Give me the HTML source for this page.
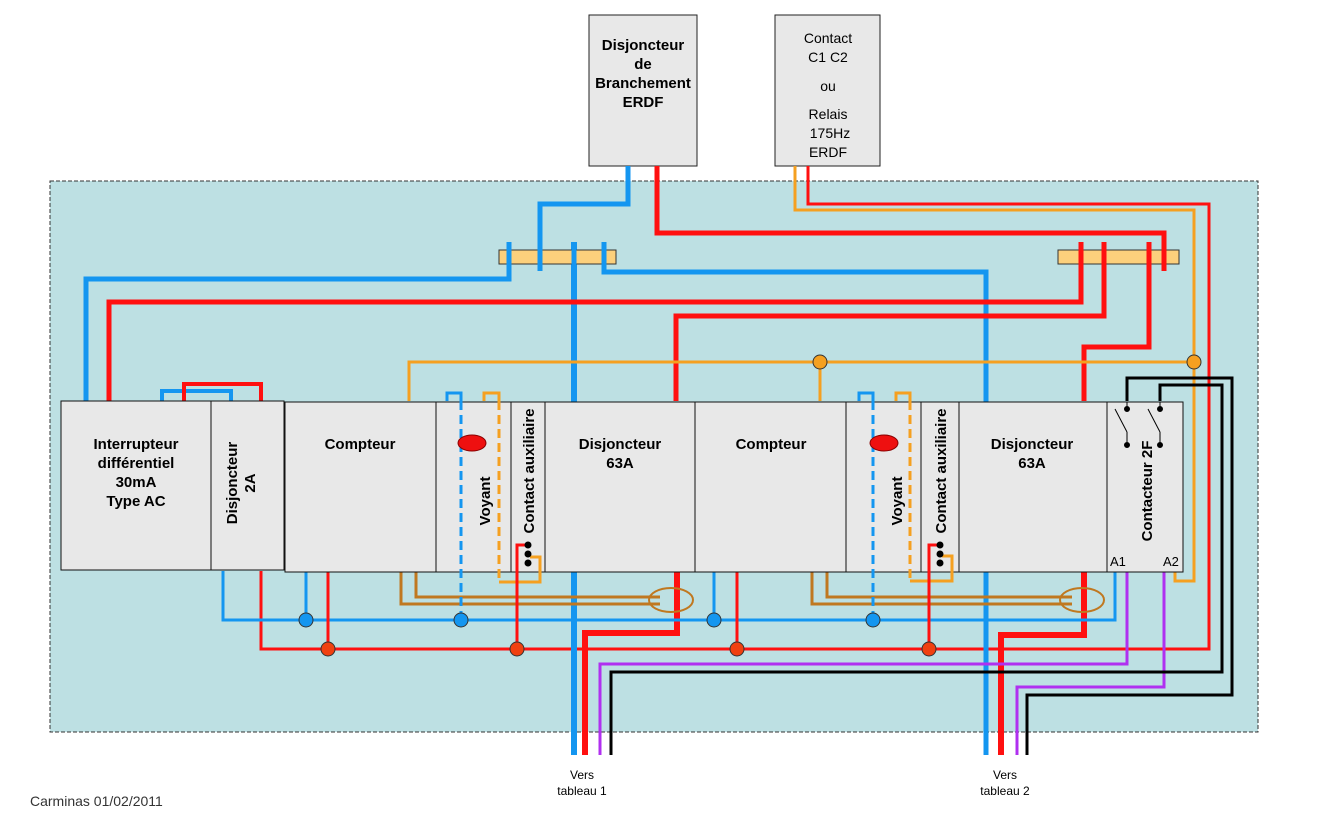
<!DOCTYPE html>
<html><head><meta charset="utf-8"><style>
html,body{margin:0;padding:0;background:#fff;}
svg{display:block;font-family:"Liberation Sans",Arial,sans-serif;}
.b{font-weight:bold;font-size:15px;}
</style></head><body>
<svg width="1323" height="831" viewBox="0 0 1323 831" xmlns="http://www.w3.org/2000/svg">
<rect x="50" y="181" width="1208" height="551" fill="#bde0e3" stroke="#333" stroke-width="1" stroke-dasharray="4,2"/>
<rect x="589" y="15" width="108" height="151" fill="#e8e8e8" stroke="#222"/>
<g class="b" text-anchor="middle">
<text x="643" y="50">Disjoncteur</text><text x="643" y="69">de</text><text x="643" y="88">Branchement</text><text x="643" y="107">ERDF</text></g>
<rect x="775" y="15" width="105" height="151" fill="#e8e8e8" stroke="#222"/>
<g font-size="14" text-anchor="middle">
<text x="828" y="43">Contact</text><text x="828" y="62">C1 C2</text><text x="828" y="91">ou</text><text x="828" y="119">Relais</text><text x="830" y="138">175Hz</text><text x="828" y="157">ERDF</text></g>

<g fill="none" stroke-linejoin="miter">
<polyline points="808,166 808,204 1209,204 1209,649 261,649 261,571" stroke="#ff1010" stroke-width="3"/>
<polyline points="795,166 795,210 1194,210 1194,581 1175,581 1175,571" stroke="#f5a020" stroke-width="3"/>
<polyline points="628,166 628,204 540,204 540,271" stroke="#1496f0" stroke-width="5"/>
<polyline points="86,401 86,279 509,279 509,242" stroke="#1496f0" stroke-width="5"/>
<polyline points="574,242 574,755" stroke="#1496f0" stroke-width="6"/>
<polyline points="604,242 604,272 986,272 986,755" stroke="#1496f0" stroke-width="5"/>
<polyline points="657,166 657,233 1164,233 1164,271" stroke="#ff1010" stroke-width="5"/>
<polyline points="109,401 109,302 1081,302 1081,242" stroke="#ff1010" stroke-width="5"/>
<polyline points="676,401 676,316 1104,316 1104,242" stroke="#ff1010" stroke-width="5"/>
<polyline points="1084,401 1084,347 1149,347 1149,242" stroke="#ff1010" stroke-width="5"/>
<polyline points="677,571 677,633 585,633 585,755" stroke="#ff1010" stroke-width="6"/>
<polyline points="1084,571 1084,635 1001,635 1001,755" stroke="#ff1010" stroke-width="6"/>
<polyline points="409,401 409,362 1194,362" stroke="#f5a020" stroke-width="3"/>
<line x1="820" y1="362" x2="820" y2="401" stroke="#f5a020" stroke-width="3"/>
<polyline points="162,401 162,391 231,391 231,401" stroke="#1496f0" stroke-width="4"/>
<polyline points="184,401 184,384 261,384 261,401" stroke="#ff1010" stroke-width="4"/>
<polyline points="223,571 223,620 1115,620 1115,571" stroke="#1496f0" stroke-width="3"/>
<line x1="306" y1="572" x2="306" y2="620" stroke="#1496f0" stroke-width="3"/>
<line x1="714" y1="572" x2="714" y2="620" stroke="#1496f0" stroke-width="3"/>
<line x1="328" y1="572" x2="328" y2="649" stroke="#ff1010" stroke-width="3"/>
<line x1="737" y1="572" x2="737" y2="649" stroke="#ff1010" stroke-width="3"/>
<polyline points="401,572 401,604 660,604" stroke="#c07820" stroke-width="3"/>
<polyline points="416,572 416,597 660,597" stroke="#c07820" stroke-width="3"/>
<polyline points="812,572 812,604 1072,604" stroke="#c07820" stroke-width="3"/>
<polyline points="827,572 827,597 1072,597" stroke="#c07820" stroke-width="3"/>
<ellipse cx="671" cy="600" rx="22" ry="12" stroke="#c07820" stroke-width="2"/>
<ellipse cx="1082" cy="600" rx="22" ry="12" stroke="#c07820" stroke-width="2"/>
<polyline points="1127,571 1127,664 600,664 600,755" stroke="#b030f0" stroke-width="3"/>
<polyline points="1164,571 1164,687 1017,687 1017,755" stroke="#b030f0" stroke-width="3"/>
<polyline points="1127,401 1127,378 1232,378 1232,695 1027,695 1027,755" stroke="#000" stroke-width="3"/>
<polyline points="1160,401 1160,385 1222,385 1222,672 611,672 611,755" stroke="#000" stroke-width="3"/>
</g>
<rect x="499" y="250" width="117" height="14" fill="#fcd07c" stroke="#333"/>
<rect x="1058" y="250" width="121" height="14" fill="#fcd07c" stroke="#333"/>
<g stroke-width="5">
<line x1="509" y1="242" x2="509" y2="271" stroke="#1496f0"/>
<line x1="540" y1="242" x2="540" y2="271" stroke="#1496f0"/>
<line x1="574" y1="242" x2="574" y2="271" stroke="#1496f0"/>
<line x1="604" y1="242" x2="604" y2="271" stroke="#1496f0"/>
<line x1="1081" y1="242" x2="1081" y2="271" stroke="#ff1010"/>
<line x1="1104" y1="242" x2="1104" y2="271" stroke="#ff1010"/>
<line x1="1149" y1="242" x2="1149" y2="271" stroke="#ff1010"/>
<line x1="1164" y1="240" x2="1164" y2="271" stroke="#ff1010"/>
</g>
<g fill="#e8e8e8" stroke="#111" stroke-width="1">
<rect x="61" y="401" width="150" height="169"/>
<rect x="211" y="401" width="73" height="169"/>
<rect x="285" y="402" width="151" height="170"/>
<rect x="436" y="402" width="75" height="170"/>
<rect x="511" y="402" width="34" height="170"/>
<rect x="545" y="402" width="150" height="170"/>
<rect x="695" y="402" width="151" height="170"/>
<rect x="846" y="402" width="75" height="170"/>
<rect x="921" y="402" width="38" height="170"/>
<rect x="959" y="402" width="148" height="170"/>
<rect x="1107" y="402" width="76" height="170"/>
</g>
<g fill="none" stroke-width="3">
<polyline points="447,401 447,393 461,393 461,401" stroke="#1496f0"/>
<line x1="461" y1="401" x2="461" y2="620" stroke="#1496f0" stroke-dasharray="9,5"/>
<polyline points="484,401 484,393 499,393 499,401" stroke="#f5a020"/>
<polyline points="499,401 499,582" stroke="#f5a020" stroke-dasharray="9,5"/>
<polyline points="499,582 540,582 540,557 530,557" stroke="#f5a020"/>
<polyline points="859,401 859,393 873,393 873,401" stroke="#1496f0"/>
<line x1="873" y1="401" x2="873" y2="620" stroke="#1496f0" stroke-dasharray="9,5"/>
<polyline points="896,401 896,393 910,393 910,401" stroke="#f5a020"/>
<polyline points="910,401 910,581" stroke="#f5a020" stroke-dasharray="9,5"/>
<polyline points="910,581 952,581 952,556 942,556" stroke="#f5a020"/>
<polyline points="528,545 517,545 517,649" stroke="#ff1010"/>
<polyline points="940,545 929,545 929,649" stroke="#ff1010"/>
</g>
<g stroke="#000" stroke-width="1" fill="#000">
<line x1="1127" y1="402" x2="1127" y2="409"/><line x1="1115" y1="409" x2="1127" y2="432"/><line x1="1127" y1="432" x2="1127" y2="445"/>
<circle cx="1127" cy="409" r="2.5"/><circle cx="1127" cy="445" r="2.5"/>
<line x1="1160" y1="402" x2="1160" y2="409"/><line x1="1148" y1="409" x2="1160" y2="432"/><line x1="1160" y1="432" x2="1160" y2="445"/>
<circle cx="1160" cy="409" r="2.5"/><circle cx="1160" cy="445" r="2.5"/>
</g>
<g fill="#000">
<circle cx="528" cy="545" r="3.5"/><circle cx="528" cy="554" r="3.5"/><circle cx="528" cy="563" r="3.5"/>
<circle cx="940" cy="545" r="3.5"/><circle cx="940" cy="554" r="3.5"/><circle cx="940" cy="563" r="3.5"/>
</g>
<ellipse cx="472" cy="443" rx="14" ry="8" fill="#ee1010" stroke="#800" stroke-width="1"/>
<ellipse cx="884" cy="443" rx="14" ry="8" fill="#ee1010" stroke="#800" stroke-width="1"/>
<g stroke="#333" stroke-width="1">
<circle cx="306" cy="620" r="7" fill="#1496f0"/><circle cx="461" cy="620" r="7" fill="#1496f0"/>
<circle cx="714" cy="620" r="7" fill="#1496f0"/><circle cx="873" cy="620" r="7" fill="#1496f0"/>
<circle cx="328" cy="649" r="7" fill="#f04010"/><circle cx="517" cy="649" r="7" fill="#f04010"/>
<circle cx="737" cy="649" r="7" fill="#f04010"/><circle cx="929" cy="649" r="7" fill="#f04010"/>
<circle cx="820" cy="362" r="7" fill="#f5a020"/><circle cx="1194" cy="362" r="7" fill="#f5a020"/>
</g>
<g class="b" text-anchor="middle">
<text x="136" y="449">Interrupteur</text><text x="136" y="468">différentiel</text><text x="136" y="487">30mA</text><text x="136" y="506">Type AC</text>
<text x="360" y="449">Compteur</text>
<text x="620" y="449">Disjoncteur</text><text x="620" y="468">63A</text>
<text x="771" y="449">Compteur</text>
<text x="1032" y="449">Disjoncteur</text><text x="1032" y="468">63A</text>
<text transform="translate(237,483) rotate(-90)">Disjoncteur</text>
<text transform="translate(255,483) rotate(-90)">2A</text>
<text transform="translate(490,501) rotate(-90)">Voyant</text>
<text transform="translate(534,471) rotate(-90)">Contact auxiliaire</text>
<text transform="translate(902,501) rotate(-90)">Voyant</text>
<text transform="translate(946,471) rotate(-90)">Contact auxiliaire</text>
<text transform="translate(1152,491) rotate(-90)">Contacteur 2F</text>
</g>
<g font-size="13"><text x="1110" y="566">A1</text><text x="1163" y="566">A2</text></g>
<g font-size="12" text-anchor="middle">
<text x="582" y="779">Vers</text><text x="582" y="795">tableau 1</text>
<text x="1005" y="779">Vers</text><text x="1005" y="795">tableau 2</text></g>
<text x="30" y="806" font-size="14" fill="#333">Carminas 01/02/2011</text>
</svg>
</body></html>
